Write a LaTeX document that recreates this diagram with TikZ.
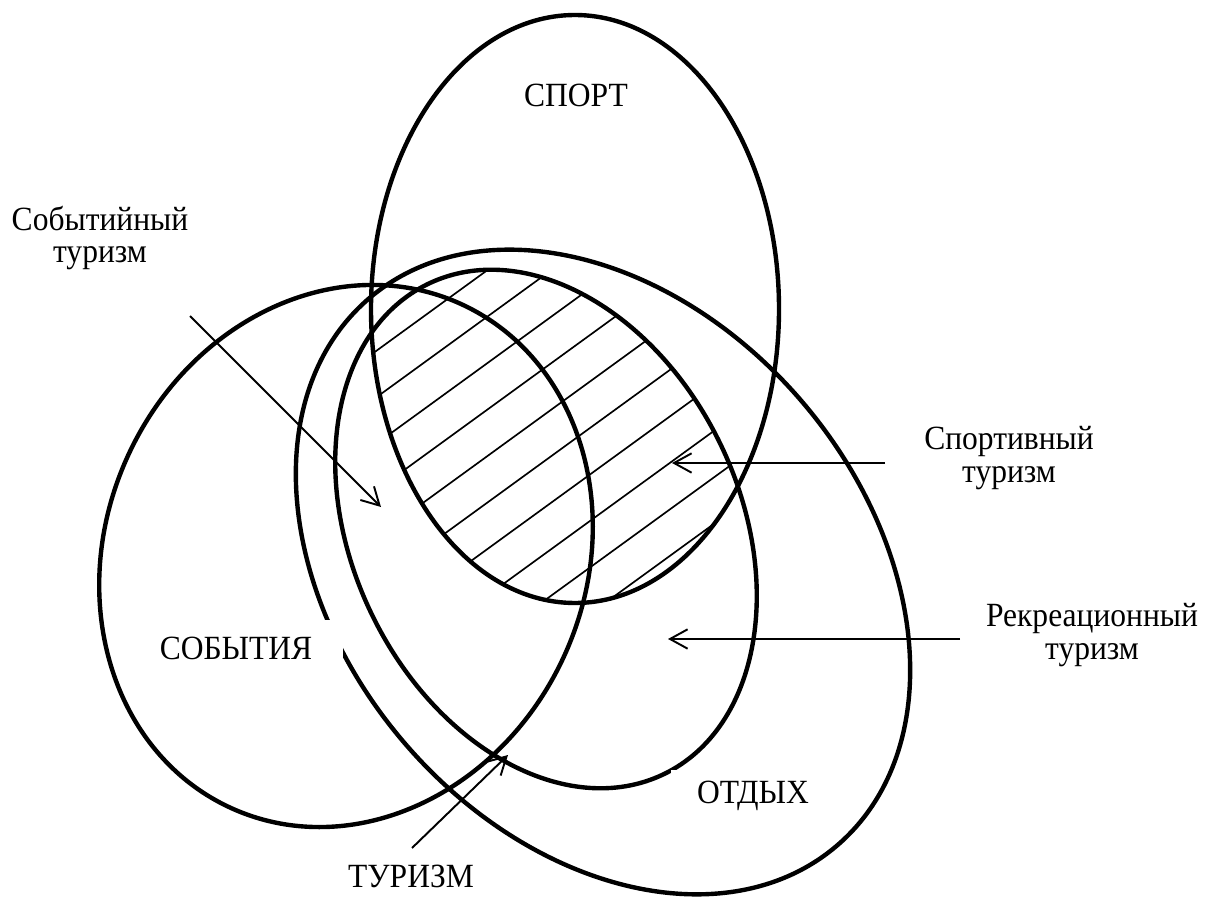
\documentclass[tikz,border=0pt]{standalone}
\usepackage{fontspec}
\setmainfont{Liberation Serif}[FakeStretch=0.93]
\usetikzlibrary{arrows.meta}

\tikzset{
  region/.style={line width=2.5pt},
  hint/.style={line width=1.1pt, -{Straight Barb[length=10pt,width=11pt]}},
  hatch/.style={line width=0.95pt},
  lbl/.style={font=\fontsize{19.3}{18.7}\selectfont, align=center, inner sep=0pt},
}

\begin{document}
\begin{tikzpicture}[x=0.02cm, y=-0.02cm]

\useasboundingbox (0,0) rectangle (1214,898);

% hatching
\begin{scope}
  \clip (575,309) ellipse [x radius=204, y radius=294];
  \clip[rotate around={-64.4:(546,529)}] (546,529) ellipse [x radius=272, y radius=194];
  \foreach \k in {0,...,9}
    \draw[hatch] ({0.588*(505+37.6*\k)-500*0.809},{0.809*(505+37.6*\k)+500*0.588})
      -- ({0.588*(505+37.6*\k)+500*0.809},{0.809*(505+37.6*\k)-500*0.588});
\end{scope}

% sport
\draw[region] (575,309) ellipse [x radius=204, y radius=294];
% events
\draw[region, rotate around={65.5:(346,556)}] (346,556) ellipse [x radius=277, y radius=240];
% leisure
\draw[region, rotate around={-49.5:(603,572)}] (603,572) ellipse [x radius=360, y radius=262];
% tourism
\draw[region, rotate around={-64.4:(546,529)}] (546,529) ellipse [x radius=272, y radius=194];

% labels
\node[lbl, anchor=base] (sport) at (576,107) {СПОРТ};
\node[lbl, fill=white, minimum width=4.28cm, minimum height=1.12cm] (events) at (236,648) {СОБЫТИЯ};
\node[lbl, fill=white, minimum width=3.3cm, minimum height=1.06cm] (leisure) at (753,796) {ОТДЫХ};
\node[lbl, anchor=base] (tourism) at (411,887) {ТУРИЗМ};
\node[lbl] (evtour) at (100,238) {Событийный\\туризм};
\node[lbl] (sptour) at (1009,458) {Спортивный\\туризм};
\node[lbl] (rectour) at (1092,635) {Рекреационный\\туризм};

% arrows
\coordinate (evtour-from) at (190,316);
\coordinate (evtour-to) at (381,507);
\coordinate (sptour-from) at (885,463);
\coordinate (sptour-to) at (672,463);
\coordinate (rectour-from) at (960,639);
\coordinate (rectour-to) at (668,639);
\coordinate (tourism-from) at (412,848);
\coordinate (tourism-to) at (508,755);

\draw[hint] (evtour-from) -- (evtour-to);
\draw[hint] (sptour-from) -- (sptour-to);
\draw[hint] (rectour-from) -- (rectour-to);
\draw[hint] (tourism-from) -- (tourism-to);

\end{tikzpicture}
\end{document}
